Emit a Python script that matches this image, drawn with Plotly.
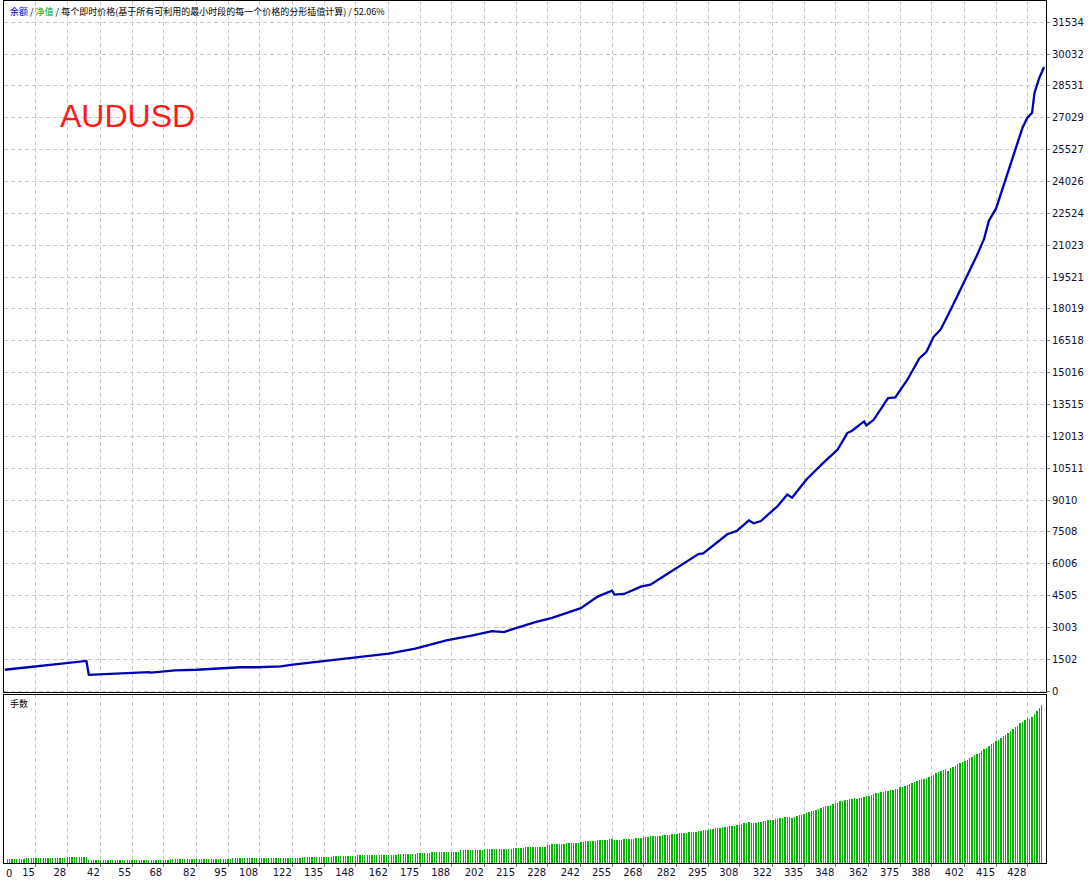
import plotly.graph_objects as go

# ---------------- data ----------------
# balance curve: trade number -> account balance
balance_trade = [2, 19, 36, 37, 42, 47, 55, 62, 63, 68, 73, 82, 91, 100, 107, 117, 122, 135, 148,
                 162, 173, 186, 197, 205, 210, 212, 223, 230, 242, 249, 255, 256, 260, 267, 271,
                 282, 291, 293, 303, 307, 312, 314, 317, 324, 328, 330, 336, 343, 349, 353, 355,
                 360, 361, 364, 370, 373, 378, 383, 386, 389, 392, 397, 400, 403, 407, 410, 412,
                 415, 418, 422, 426, 428, 430, 431, 433, 435]
balance_value = [1010, 1220, 1425, 770, 800, 825, 860, 900, 875, 915, 985, 1010, 1064, 1127, 1127,
                 1173, 1252, 1424, 1580, 1768, 2003, 2394, 2628, 2831, 2785, 2863, 3254, 3457, 3911,
                 4458, 4740, 4552, 4583, 4927, 5021, 5835, 6460, 6491, 7398, 7554, 8055, 7914, 8023,
                 8727, 9274, 9118, 9978, 10760, 11386, 12168, 12278, 12716, 12528, 12794, 13815,
                 13844, 14672, 15688, 16001, 16705, 17064, 18191, 18895, 19520, 20537, 21320, 22180,
                 22758, 23822, 25230, 26560, 27029, 27264, 28202, 28906, 29422]

# lots per trade (trades 3 .. 434)
lot_first_trade = 3
lots = [
    0.07, 0.07, 0.07, 0.07, 0.07, 0.07, 0.07, 0.07,
    0.09, 0.09, 0.09, 0.09, 0.09, 0.09, 0.09, 0.09, 0.09, 0.09, 0.09, 0.09, 0.09, 0.09, 0.09, 0.09, 0.09,
    0.11, 0.11, 0.11, 0.11, 0.11, 0.11, 0.11, 0.11, 0.11,
    0.06, 0.06, 0.06, 0.06, 0.06, 0.06, 0.06, 0.06, 0.06, 0.06, 0.06, 0.06, 0.06, 0.06, 0.06, 0.06, 0.06, 0.06, 0.06,
    0.06, 0.06, 0.06, 0.06, 0.06, 0.06, 0.06, 0.06, 0.06, 0.06, 0.06, 0.06, 0.06, 0.06, 0.06,
    0.07, 0.07, 0.07, 0.07, 0.07, 0.07, 0.07, 0.07, 0.07, 0.07, 0.07, 0.07, 0.07,
    0.07, 0.07, 0.07, 0.07, 0.07, 0.07, 0.07, 0.07, 0.07, 0.07, 0.07, 0.07, 0.07,
    0.08, 0.08, 0.08, 0.08, 0.08, 0.08, 0.08, 0.08, 0.08, 0.08, 0.08,
    0.09, 0.09, 0.09, 0.09, 0.09, 0.09, 0.09, 0.09, 0.09, 0.09, 0.09, 0.09, 0.09, 0.09, 0.09, 0.09, 0.09, 0.09,
    0.10, 0.10, 0.10, 0.10, 0.10, 0.10, 0.10, 0.10, 0.10, 0.10, 0.10, 0.10, 0.10,
    0.12, 0.12, 0.12, 0.12, 0.12, 0.12, 0.12, 0.12, 0.12, 0.12,
    0.14, 0.14, 0.14, 0.14, 0.14, 0.14, 0.14, 0.14, 0.14, 0.14, 0.14, 0.14, 0.14, 0.14, 0.14, 0.14, 0.14,
    0.16, 0.16, 0.16, 0.16, 0.16, 0.16, 0.16, 0.16,
    0.18, 0.18, 0.18, 0.18, 0.18, 0.18,
    0.20, 0.20, 0.20, 0.20, 0.20, 0.20, 0.20, 0.20, 0.20, 0.20, 0.20, 0.20,
    0.23, 0.23, 0.23, 0.23, 0.23, 0.23, 0.23, 0.23, 0.23, 0.23,
    0.25, 0.25, 0.25, 0.25, 0.25, 0.25, 0.25, 0.25, 0.25, 0.25, 0.25, 0.25,
    0.28, 0.28, 0.28, 0.28, 0.28,
    0.30, 0.30, 0.30, 0.30, 0.30, 0.30, 0.30, 0.30, 0.30,
    0.33, 0.33, 0.34, 0.34, 0.34, 0.35, 0.35, 0.35, 0.36, 0.36, 0.36, 0.37, 0.37, 0.37,
    0.39, 0.39, 0.40, 0.40, 0.40, 0.41, 0.41, 0.42, 0.42, 0.42, 0.43, 0.43, 0.44, 0.44,
    0.43, 0.43, 0.43, 0.43, 0.44, 0.44, 0.45, 0.45, 0.45, 0.46, 0.46, 0.46, 0.47,
    0.48, 0.48, 0.49, 0.49, 0.50, 0.50, 0.50, 0.51, 0.51, 0.52, 0.52, 0.53, 0.53,
    0.54, 0.55, 0.55, 0.56, 0.56, 0.57, 0.57, 0.58, 0.58, 0.59, 0.59, 0.60, 0.60, 0.61,
    0.62, 0.63, 0.64, 0.64, 0.65, 0.66, 0.66, 0.67, 0.68, 0.68, 0.69, 0.70, 0.71,
    0.72, 0.73, 0.74, 0.75, 0.74, 0.73, 0.74, 0.75, 0.76, 0.77, 0.78, 0.79, 0.79, 0.80,
    0.81, 0.82, 0.83, 0.84, 0.85, 0.86, 0.85, 0.84, 0.86, 0.87, 0.88, 0.89, 0.91,
    0.93, 0.94, 0.96, 0.97, 0.99, 1.00, 1.02, 1.03, 1.05, 1.06, 1.08, 1.09, 1.11,
    1.12, 1.14, 1.15, 1.16, 1.17, 1.18, 1.19, 1.20, 1.19, 1.20, 1.21, 1.22, 1.24,
    1.25, 1.26, 1.28, 1.29, 1.30, 1.31, 1.32, 1.33, 1.34, 1.35, 1.36, 1.37, 1.38, 1.40,
    1.41, 1.43, 1.45, 1.46, 1.48, 1.50, 1.52, 1.53, 1.55, 1.56, 1.58, 1.60, 1.62,
    1.64, 1.66, 1.68, 1.70, 1.72, 1.74, 1.70, 1.76, 1.78, 1.80, 1.83, 1.85, 1.88,
    1.90, 1.92, 1.95, 1.97, 2.00, 2.02, 2.05, 2.08, 2.11, 2.14, 2.17, 2.20, 2.23, 2.26,
    2.29, 2.32, 2.35, 2.38, 2.41, 2.45, 2.48, 2.52, 2.55, 2.59, 2.62, 2.66, 2.70,
    2.68, 2.72, 2.77, 2.82, 2.87, 2.93,
]
lot_trades = list(range(lot_first_trade, lot_first_trade + len(lots)))

x_tick_labels = ["0", "15", "28", "42", "55", "68", "82", "95", "108", "122", "135", "148", "162",
                 "175", "188", "202", "215", "228", "242", "255", "268", "282", "295", "308", "322",
                 "335", "348", "362", "375", "388", "402", "415", "428"]
y_tick_labels = ["0", "1502", "3003", "4505", "6006", "7508", "9010", "10511", "12013", "13515",
                 "15016", "16518", "18019", "19521", "21023", "22524", "24026", "25527", "27029",
                 "28531", "30032", "31534"]

header_parts = ["余额", "净值", "每个即时价格(基于所有可利用的最小时段的每一个价格的分形插值计算)", "52.06%"]
symbol_name = "AUDUSD"
lots_title = "手数"

# ---------------- styling ----------------
W, H = 1091, 885
BLUE = "#0000B4"
GREEN = "rgba(0,176,0,0.995)"
GRID = "#C8C8C8"
TICKFONT = dict(family="DejaVu Sans", size=10, color="#101030")

def px_x(p):
    return p / W

def px_y(p):
    return 1 - p / H

x_dom = [px_x(4), px_x(1046)]
x_range = [1.67, 435.8]
main_dom = [px_y(695.5), px_y(1)]
lot_dom = [px_y(867), px_y(698.5)]

fig = go.Figure()
fig.add_trace(go.Scatter(x=balance_trade, y=balance_value, mode="lines",
                         line=dict(color=BLUE, width=2.3), xaxis="x", yaxis="y",
                         showlegend=False, hoverinfo="skip"))
fig.add_trace(go.Bar(x=lot_trades, y=lots, width=0.55, marker=dict(color=GREEN, line=dict(width=0)),
                     xaxis="x2", yaxis="y2", showlegend=False, hoverinfo="skip"))

x_vals = [int(v) for v in x_tick_labels[1:]]
common_x = dict(domain=x_dom, range=x_range, tickmode="array", tickvals=x_vals,
                showgrid=True, gridcolor=GRID, griddash="4px,3px", gridwidth=1,
                zeroline=False, showline=True, linecolor="black", linewidth=1, mirror=True)

fig.update_layout(
    width=W, height=H, margin=dict(l=0, r=0, t=0, b=0),
    paper_bgcolor="white", plot_bgcolor="white",
    xaxis=dict(anchor="y", showticklabels=False, ticks="", **common_x),
    xaxis2=dict(anchor="y2", ticktext=x_tick_labels[1:], ticks="outside", ticklen=3,
                tickcolor="#808080", ticklabelposition="outside left", tickfont=TICKFONT,
                **common_x),
    yaxis=dict(domain=main_dom, anchor="x", side="right", range=[-56, 32537],
               tickmode="array", tickvals=[int(v) for v in y_tick_labels], ticktext=y_tick_labels,
               showgrid=True, gridcolor=GRID, griddash="4px,3px", gridwidth=1, zeroline=False,
               showline=True, linecolor="black", linewidth=1, mirror=True,
               ticks="outside", ticklen=3, tickcolor="#808080", tickfont=TICKFONT),
    yaxis2=dict(domain=lot_dom, anchor="x2", range=[0, 3.12], showgrid=False, zeroline=False,
                showticklabels=False, ticks="", showline=True, linecolor="black", linewidth=1,
                mirror=True),
    bargap=0, bargroupgap=0,
)

header_text = ("<span style='color:#0000C8'>" + header_parts[0] + "</span> / "
               "<span style='color:#00A000'>" + header_parts[1] + "</span> / "
               + header_parts[2] + " / " + header_parts[3])
fig.add_annotation(xref="paper", yref="paper", x=px_x(8), y=px_y(12), xanchor="left",
                   yanchor="middle", showarrow=False, text=header_text,
                   font=dict(family="Noto Sans CJK SC", size=9, color="black"))
fig.add_annotation(xref="paper", yref="paper", x=px_x(58), y=px_y(117), xanchor="left",
                   yanchor="middle", showarrow=False, text=symbol_name,
                   font=dict(family="Liberation Sans", size=32, color="#FF1A1A"))
fig.add_annotation(xref="paper", yref="paper", x=px_x(8), y=px_y(707), xanchor="left",
                   yanchor="middle", showarrow=False, text=lots_title,
                   font=dict(family="Noto Sans CJK SC", size=9, color="black"))
fig.add_annotation(xref="paper", yref="paper", x=px_x(4), y=px_y(877), xanchor="left",
                   yanchor="middle", showarrow=False, text=x_tick_labels[0], font=TICKFONT)

post = """
document.body.style.margin='0px';
function crisp(){
  document.querySelectorAll('.barlayer path').forEach(function(p){
    p.style.shapeRendering='crispEdges';
  });
}
crisp();
setTimeout(crisp, 50);
"""
fig.write_html("out.html", config={"displayModeBar": False}, post_script=post)
